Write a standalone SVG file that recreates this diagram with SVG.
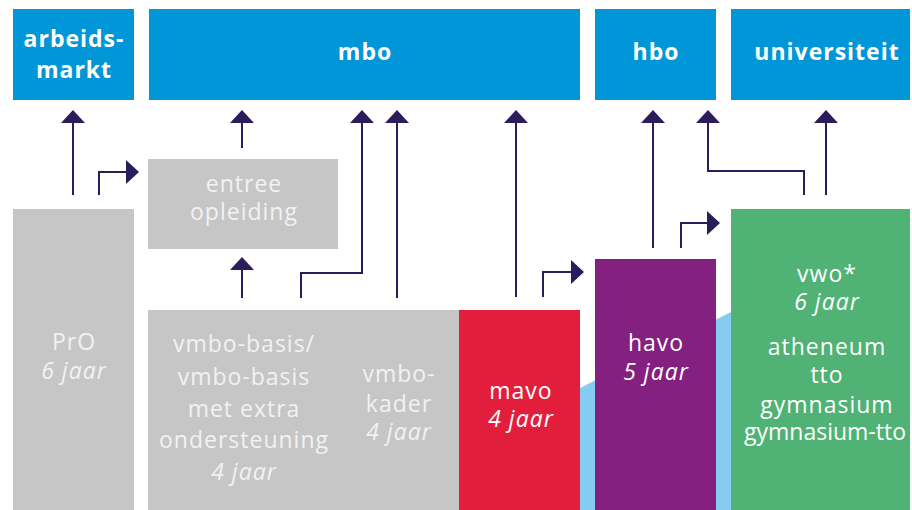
<svg xmlns="http://www.w3.org/2000/svg" width="912" height="510" viewBox="0 0 912 510">
<defs>
<style>
.top{fill:#0096D7}
.grey{fill:#C6C6C6}
.tt{font-family:"Open Sans","Liberation Sans",sans-serif;font-weight:bold;font-size:23px;letter-spacing:1px;fill:#fff;text-anchor:middle}
.t{font-family:"Open Sans","Liberation Sans",sans-serif;font-size:23px;letter-spacing:1px;text-anchor:middle;fill:#fff}
.g{fill:#F2F2F2}
.i{font-style:italic}
.n{letter-spacing:0}
.c{fill:none;stroke:#2B1D5C;stroke-width:2}
</style>
<marker id="ah" viewBox="0 0 13 24" refX="12" refY="12" markerWidth="13" markerHeight="24" markerUnits="userSpaceOnUse" orient="auto">
<path d="M0,0 L13,12 L0,24 Z" fill="#2B1D5C"/>
</marker>
</defs>
<rect width="912" height="510" fill="#fff"/>
<polygon points="580,388 731,312 731,510 580,510" fill="#86CBF0"/>
<g id="arbeidsmarkt"><rect class="top" x="13" y="9" width="121" height="91"/><text class="tt" x="74" y="47">arbeids-</text><text class="tt" x="74" y="78">markt</text></g>
<g id="mbo"><rect class="top" x="149" y="9" width="431" height="91"/><text class="tt" x="365" y="60">mbo</text></g>
<g id="hbo"><rect class="top" x="595" y="9" width="121" height="91"/><text class="tt" x="656" y="60">hbo</text></g>
<g id="universiteit"><rect class="top" x="731" y="9" width="179" height="91"/><text class="tt" x="827" y="60">universiteit</text></g>
<g id="entree"><rect class="grey" x="148" y="159" width="190" height="90"/><text class="t g" x="244" y="192">entree</text><text class="t g" x="244" y="220">opleiding</text></g>
<g id="pro"><rect class="grey" x="13" y="209" width="121" height="301"/><text class="t g" x="74" y="350">PrO</text><text class="t g i" x="74" y="379">6 jaar</text></g>
<g id="vmbo"><rect class="grey" x="148" y="310" width="311" height="200"/>
<text class="t g" x="244" y="352">vmbo-basis/</text><text class="t g" x="244" y="385">vmbo-basis</text><text class="t g" x="244" y="417">met extra</text><text class="t g" x="244" y="448">ondersteuning</text><text class="t g i" x="244" y="480">4 jaar</text>
<text class="t g" x="399" y="382">vmbo-</text><text class="t g" x="399" y="412">kader</text><text class="t g i" x="399" y="440">4 jaar</text></g>
<g id="mavo"><rect x="459" y="310" width="121" height="200" fill="#E31E3C"/><text class="t" x="521" y="399">mavo</text><text class="t i" x="521" y="427">4 jaar</text></g>
<g id="havo"><rect x="595" y="259" width="121" height="251" fill="#84207F"/><text class="t" x="656" y="351">havo</text><text class="t i" x="656" y="380">5 jaar</text></g>
<g id="vwo"><rect x="731" y="209" width="179" height="301" fill="#50B275"/><text class="t" x="827" y="282">vwo*</text><text class="t i" x="827" y="310">6 jaar</text><text class="t" x="827" y="355">atheneum</text><text class="t" x="827" y="383">tto</text><text class="t" x="827" y="413">gymnasium</text><text class="t n" x="825" y="440">gymnasium-tto</text></g>
<g id="connectors">
<path class="c" marker-end="url(#ah)" d="M73,195 V111"/>
<path class="c" marker-end="url(#ah)" d="M99,195 V172 H138"/>
<path class="c" marker-end="url(#ah)" d="M242,148 V111"/>
<path class="c" marker-end="url(#ah)" d="M242,298 V258"/>
<path class="c" marker-end="url(#ah)" d="M301,298 V273 H362 V111"/>
<path class="c" marker-end="url(#ah)" d="M397,298 V111"/>
<path class="c" marker-end="url(#ah)" d="M516,297 V111"/>
<path class="c" marker-end="url(#ah)" d="M543,297 V272 H583"/>
<path class="c" marker-end="url(#ah)" d="M653,248 V111"/>
<path class="c" marker-end="url(#ah)" d="M681,248 V223 H719"/>
<path class="c" marker-end="url(#ah)" d="M804,195 V171 H708 V111"/>
<path class="c" marker-end="url(#ah)" d="M826,195 V111"/>
</g>
</svg>
